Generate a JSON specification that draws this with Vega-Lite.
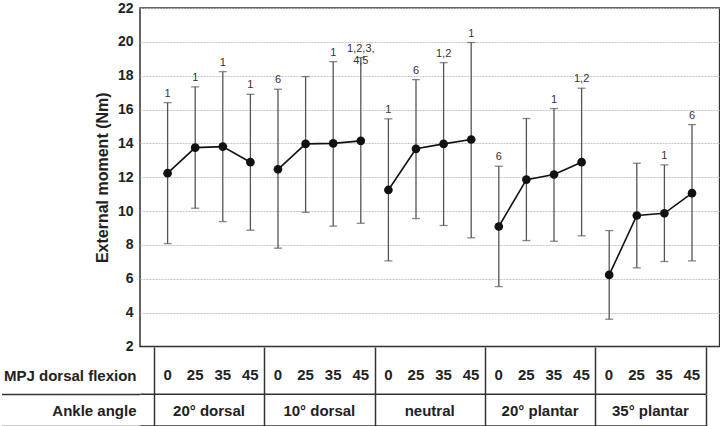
{
  "$schema": "https://vega.github.io/schema/vega-lite/v6.json",
  "padding": 0,
  "background": "white",
  "config": {
    "font": "Liberation Sans",
    "view": {"stroke": "#333", "strokeWidth": 1.5},
    "axisY": {"labelOverlap": false}
  },
  "data": {
    "values": [
      {"ankle": "20° dorsal", "mpj": 0, "idx": 0, "mean": 12.24, "lo": 8.08, "hi": 16.41, "label": "1"},
      {"ankle": "20° dorsal", "mpj": 25, "idx": 1, "mean": 13.75, "lo": 10.17, "hi": 17.34, "label": "1"},
      {"ankle": "20° dorsal", "mpj": 35, "idx": 2, "mean": 13.81, "lo": 9.38, "hi": 18.24, "label": "1"},
      {"ankle": "20° dorsal", "mpj": 45, "idx": 3, "mean": 12.89, "lo": 8.87, "hi": 16.9, "label": "1"},
      {"ankle": "10° dorsal", "mpj": 0, "idx": 4, "mean": 12.47, "lo": 7.81, "hi": 17.2, "label": "6"},
      {"ankle": "10° dorsal", "mpj": 25, "idx": 5, "mean": 13.97, "lo": 9.93, "hi": 17.95, "label": ""},
      {"ankle": "10° dorsal", "mpj": 35, "idx": 6, "mean": 14.0, "lo": 9.11, "hi": 18.83, "label": "1"},
      {"ankle": "10° dorsal", "mpj": 45, "idx": 7, "mean": 14.15, "lo": 9.28, "hi": 19.07, "label": "1,2,3,\n4,5"},
      {"ankle": "neutral", "mpj": 0, "idx": 8, "mean": 11.25, "lo": 7.06, "hi": 15.45, "label": "1"},
      {"ankle": "neutral", "mpj": 25, "idx": 9, "mean": 13.68, "lo": 9.56, "hi": 17.77, "label": "6"},
      {"ankle": "neutral", "mpj": 35, "idx": 10, "mean": 13.97, "lo": 9.15, "hi": 18.77, "label": "1,2"},
      {"ankle": "neutral", "mpj": 45, "idx": 11, "mean": 14.23, "lo": 8.42, "hi": 19.96, "label": "1"},
      {"ankle": "20° plantar", "mpj": 0, "idx": 12, "mean": 9.09, "lo": 5.54, "hi": 12.65, "label": "6"},
      {"ankle": "20° plantar", "mpj": 25, "idx": 13, "mean": 11.86, "lo": 8.26, "hi": 15.47, "label": ""},
      {"ankle": "20° plantar", "mpj": 35, "idx": 14, "mean": 12.16, "lo": 8.22, "hi": 16.06, "label": "1"},
      {"ankle": "20° plantar", "mpj": 45, "idx": 15, "mean": 12.89, "lo": 8.54, "hi": 17.26, "label": "1,2"},
      {"ankle": "35° plantar", "mpj": 0, "idx": 16, "mean": 6.23, "lo": 3.61, "hi": 8.85, "label": ""},
      {"ankle": "35° plantar", "mpj": 25, "idx": 17, "mean": 9.74, "lo": 6.65, "hi": 12.83, "label": ""},
      {"ankle": "35° plantar", "mpj": 35, "idx": 18, "mean": 9.87, "lo": 7.02, "hi": 12.73, "label": "1"},
      {"ankle": "35° plantar", "mpj": 45, "idx": 19, "mean": 11.06, "lo": 7.06, "hi": 15.11, "label": "6"}
    ]
  },
  "vconcat": [
    {
      "width": 579.6,
      "height": 338.5,
      "layer": [
        {
          "mark": {"type": "errorbar", "ticks": {"size": 8}, "color": "#555", "thickness": 1.3},
          "encoding": {
            "x": {"field": "idx", "type": "quantitative", "scale": {"domain": [-1, 20], "nice": false, "zero": false}, "axis": null},
            "y": {
              "field": "lo", "type": "quantitative",
              "scale": {"domain": [2, 22], "nice": false, "zero": false},
              "title": "External moment (Nm)",
              "axis": {
                "values": [2, 4, 6, 8, 10, 12, 14, 16, 18, 20, 22],
                "grid": true, "gridColor": "#c4c4c4", "gridDash": [2, 1], "gridWidth": 1,
                "ticks": false, "domain": false, "labelOverlap": false,
                "labelFontSize": 14, "labelFontWeight": "bold", "labelColor": "#222", "labelPadding": 7,
                "titleFontSize": 16, "titleFontWeight": "bold", "titleColor": "#222", "titlePadding": 7
              }
            },
            "y2": {"field": "hi"}
          }
        },
        {
          "mark": {"type": "line", "color": "#111", "strokeWidth": 1.6},
          "encoding": {
            "x": {"field": "idx", "type": "quantitative", "axis": null},
            "y": {
              "field": "mean", "type": "quantitative",
              "title": "External moment (Nm)",
              "axis": {
                "values": [2, 4, 6, 8, 10, 12, 14, 16, 18, 20, 22],
                "grid": true, "gridColor": "#c4c4c4", "gridDash": [2, 1], "gridWidth": 1,
                "ticks": false, "domain": false, "labelOverlap": false,
                "labelFontSize": 14, "labelFontWeight": "bold", "labelColor": "#222", "labelPadding": 7,
                "titleFontSize": 16, "titleFontWeight": "bold", "titleColor": "#222", "titlePadding": 7
              }
            },
            "detail": {"field": "ankle"}
          }
        },
        {
          "mark": {"type": "circle", "color": "#111", "size": 75, "opacity": 1},
          "encoding": {
            "x": {"field": "idx", "type": "quantitative", "axis": null},
            "y": {
              "field": "mean", "type": "quantitative",
              "title": "External moment (Nm)",
              "axis": {
                "values": [2, 4, 6, 8, 10, 12, 14, 16, 18, 20, 22],
                "grid": true, "gridColor": "#c4c4c4", "gridDash": [2, 1], "gridWidth": 1,
                "ticks": false, "domain": false, "labelOverlap": false,
                "labelFontSize": 14, "labelFontWeight": "bold", "labelColor": "#222", "labelPadding": 7,
                "titleFontSize": 16, "titleFontWeight": "bold", "titleColor": "#222", "titlePadding": 7
              }
            }
          }
        },
        {
          "mark": {"type": "text", "baseline": "bottom", "dy": -4, "fontSize": 11, "color": "#333", "lineBreak": "\n", "lineHeight": 12.5},
          "encoding": {
            "x": {"field": "idx", "type": "quantitative", "axis": null},
            "y": {
              "field": "hi", "type": "quantitative",
              "title": "External moment (Nm)",
              "axis": {
                "values": [2, 4, 6, 8, 10, 12, 14, 16, 18, 20, 22],
                "grid": true, "gridColor": "#c4c4c4", "gridDash": [2, 1], "gridWidth": 1,
                "ticks": false, "domain": false, "labelOverlap": false,
                "labelFontSize": 14, "labelFontWeight": "bold", "labelColor": "#222", "labelPadding": 7,
                "titleFontSize": 16, "titleFontWeight": "bold", "titleColor": "#222", "titlePadding": 7
              }
            },
            "text": {"field": "label", "type": "nominal"}
          }
        }
      ]
    },
    {
      "width": 565.6,
      "height": 46.7,
      "view": {"stroke": null},
      "mark": {"type": "text", "fontSize": 15, "fontWeight": "bold", "color": "#222", "dy": 5},
      "encoding": {
        "x": {
          "field": "idx", "type": "quantitative",
          "scale": {"domain": [-1, 19.5], "nice": false, "zero": false},
          "axis": {"values": [-0.5, 3.5, 7.5, 11.5, 15.5, 19.5], "grid": true, "gridColor": "#333", "gridWidth": 1.5, "ticks": false, "labels": false, "domain": true, "domainColor": "#333", "domainWidth": 1.5, "title": null}
        },
        "y": {
          "datum": 0.5, "type": "quantitative",
          "scale": {"domain": [0, 1]},
          "axis": {"values": [0], "ticks": true, "tickSize": 138.5, "tickColor": "#333", "tickWidth": 1.5, "labels": false, "domain": false, "grid": false,
                   "title": "MPJ dorsal flexion", "titleAngle": 0, "titleAlign": "right", "titleBaseline": "middle", "titleX": -4, "titleY": 28.5,
                   "titleFontSize": 15, "titleFontWeight": "bold", "titleColor": "#222"}
        },
        "text": {"field": "mpj", "type": "nominal"}
      }
    },
    {
      "width": 565.6,
      "height": 31.6,
      "view": {"stroke": null},
      "mark": {"type": "text", "fontSize": 15, "fontWeight": "bold", "color": "#222", "dy": 1},
      "encoding": {
        "x": {
          "aggregate": "mean", "field": "idx", "type": "quantitative",
          "scale": {"domain": [-1, 19.5], "nice": false, "zero": false},
          "axis": {"values": [-0.5, 3.5, 7.5, 11.5, 15.5, 19.5], "grid": true, "gridColor": "#333", "gridWidth": 1.5, "ticks": false, "labels": false, "domain": true, "domainColor": "#333", "domainWidth": 1.5, "title": null}
        },
        "y": {
          "datum": 0.5, "type": "quantitative",
          "scale": {"domain": [0, 1]},
          "axis": {"values": [0], "ticks": true, "tickSize": 138.5, "tickColor": "#333", "tickWidth": 1.5, "labels": false, "domain": false, "grid": false,
                   "title": "Ankle angle", "titleAngle": 0, "titleAlign": "right", "titleBaseline": "middle", "titleX": -4, "titleY": 16.6,
                   "titleFontSize": 15, "titleFontWeight": "bold", "titleColor": "#222"}
        },
        "text": {"field": "ankle", "type": "nominal"}
      }
    }
  ],
  "spacing": 0,
  "bounds": "flush"
}
